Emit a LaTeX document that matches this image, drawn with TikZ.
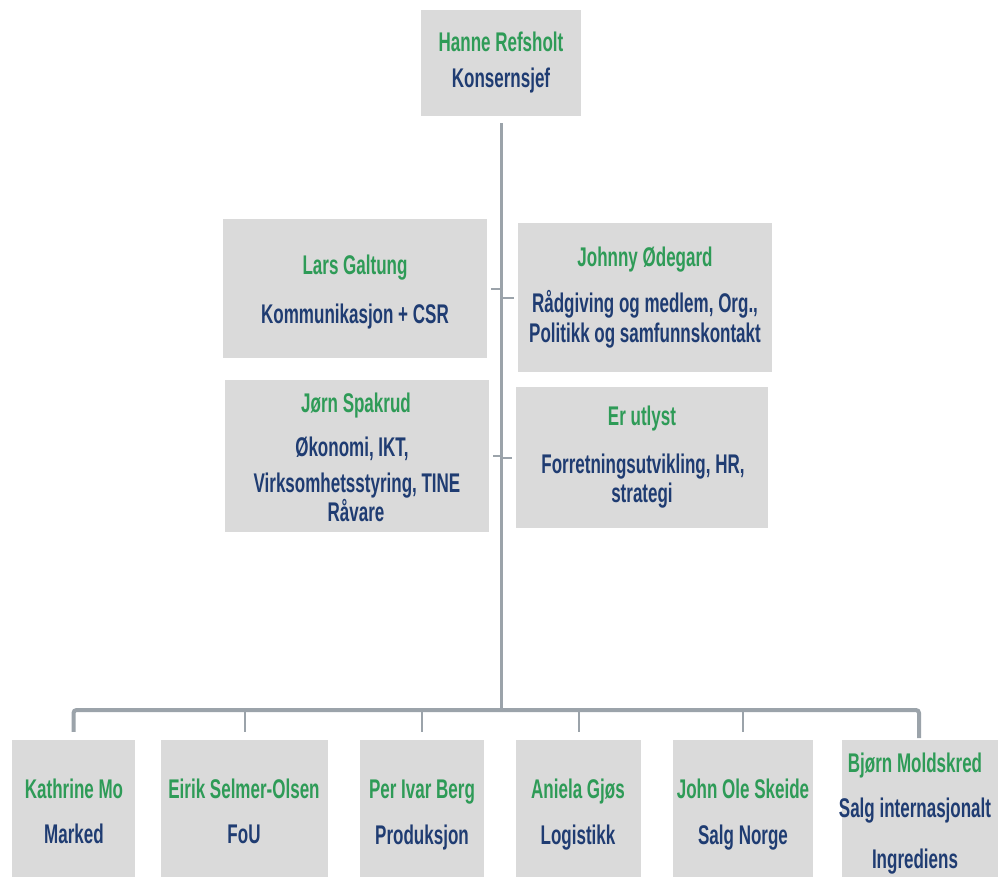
\documentclass[tikz,border=0pt]{standalone}
\usepackage{fontspec}
\setmainfont{Liberation Sans}[FakeStretch=0.63,UprightFont=*-Bold]
\definecolor{nmc}{HTML}{2E9B57}
\definecolor{rlc}{HTML}{1F3C72}
\definecolor{bxc}{HTML}{DADADA}
\definecolor{lnc}{HTML}{9BA3AA}
\tikzset{
  box/.style={rectangle, fill=bxc, draw=none, inner sep=0pt},
  nametext/.style={text=nmc, anchor=base, inner sep=0pt, font=\fontsize{27}{30}\selectfont},
  roletext/.style={text=rlc, anchor=base, inner sep=0pt, font=\fontsize{27}{30}\selectfont},
  trunkline/.style={draw=lnc, line width=3pt},
  barline/.style={draw=lnc, line width=4pt, rounded corners=3pt},
  tickline/.style={draw=lnc, line width=2pt},
}
\begin{document}
\begin{tikzpicture}[x=1pt,y=-1pt]
\useasboundingbox[fill=white] (0,0) rectangle (998,877);
% boxes
\node[box, minimum width=160pt, minimum height=106pt] (top) at (501,63) {};
\node[box, minimum width=264pt, minimum height=139pt] (lars) at (355,288.5) {};
\node[box, minimum width=254pt, minimum height=149pt] (johnny) at (645,297.5) {};
\node[box, minimum width=264pt, minimum height=152pt] (jorn) at (357,456) {};
\node[box, minimum width=252pt, minimum height=141pt] (utlyst) at (642,457.5) {};
\node[box, minimum width=123pt, minimum height=137pt] (kathrine) at (73.5,808.5) {};
\node[box, minimum width=167pt, minimum height=137pt] (eirik) at (244.5,808.5) {};
\node[box, minimum width=124pt, minimum height=137pt] (per) at (422,808.5) {};
\node[box, minimum width=125pt, minimum height=137pt] (aniela) at (578.5,808.5) {};
\node[box, minimum width=140pt, minimum height=137pt] (johnole) at (743,808.5) {};
\node[box, minimum width=156pt, minimum height=137pt] (bjorn) at (920,808.5) {};
% connectors
\coordinate (bar) at (501,710);
\coordinate (barL) at (73.5,710);
\coordinate (barR) at (919,710);
\draw[trunkline, shorten <=7pt] (top.south) -- (bar);
\draw[barline] ([yshift=8pt]kathrine.north) -- (barL) -- (barR) -- (barR |- bjorn.north) -- ++(0,-8);
\foreach \b in {eirik,per,aniela,johnole}
  \draw[tickline, shorten >=8pt] (bar -| \b.north) -- (\b.north);
\draw[tickline, shorten <=4pt] (lars.east) -- (lars.east -| bar);
\draw[tickline, shorten >=4pt] (johnny.west -| bar) -- (johnny.west);
\draw[tickline, shorten <=4pt] (jorn.east) -- (jorn.east -| bar);
\draw[tickline, shorten >=4pt] (utlyst.west -| bar) -- (utlyst.west);
% texts
\node[nametext] (top-n) at (501,52) {Hanne Refsholt};
\node[roletext] (top-r) at (501,88) {Konsernsjef};
\node[nametext] (lars-n) at (355,275) {Lars Galtung};
\node[roletext] (lars-r) at (355,323) {Kommunikasjon + CSR};
\node[nametext] (johnny-n) at (645,267) {Johnny Ødegard};
\node[roletext] (johnny-r1) at (645,312) {Rådgiving og medlem, Org.,};
\node[roletext] (johnny-r2) at (645,342) {Politikk og samfunnskontakt};
\node[nametext] (jorn-n) at (356,412) {Jørn Spakrud};
\node[roletext] (jorn-r1) at (352,456) {Økonomi, IKT,};
\node[roletext] (jorn-r2) at (357,492) {Virksomhetsstyring, TINE};
\node[roletext] (jorn-r3) at (356,521) {Råvare};
\node[nametext] (utlyst-n) at (642,425) {Er utlyst};
\node[roletext] (utlyst-r1) at (643,473) {Forretningsutvikling, HR,};
\node[roletext] (utlyst-r2) at (642,502) {strategi};
\node[nametext] (kathrine-n) at (74,798) {Kathrine Mo};
\node[roletext] (kathrine-r) at (74,843) {Marked};
\node[nametext] (eirik-n) at (244,798) {Eirik Selmer-Olsen};
\node[roletext] (eirik-r) at (244,843) {FoU};
\node[nametext] (per-n) at (422,798) {Per Ivar Berg};
\node[roletext] (per-r) at (422,844) {Produksjon};
\node[nametext] (aniela-n) at (578,798) {Aniela Gjøs};
\node[roletext] (aniela-r) at (578,844) {Logistikk};
\node[nametext] (johnole-n) at (743,798) {John Ole Skeide};
\node[roletext] (johnole-r) at (743,844) {Salg Norge};
\node[nametext] (bjorn-n) at (915,772) {Bjørn Moldskred};
\node[roletext] (bjorn-r1) at (915,817) {Salg internasjonalt};
\node[roletext] (bjorn-r2) at (915,868) {Ingrediens};
\end{tikzpicture}
\end{document}
